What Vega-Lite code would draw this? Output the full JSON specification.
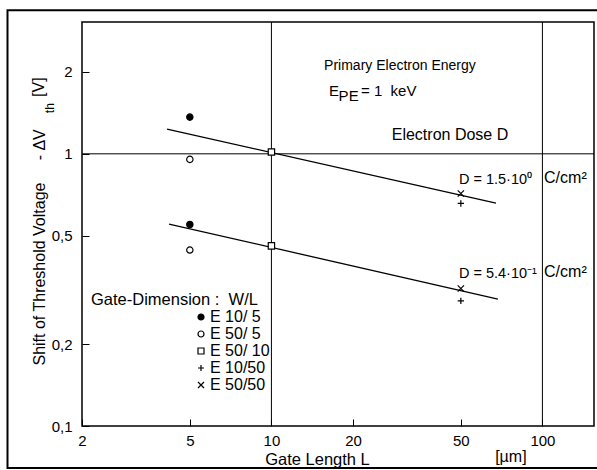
{
  "$schema": "https://vega.github.io/schema/vega-lite/v6.json",
  "width": 512,
  "height": 404,
  "autosize": {"type": "none"},
  "padding": {"left": 82, "top": 22, "right": 3, "bottom": 44},
  "background": "white",
  "config": {
    "font": "Liberation Sans",
    "view": {"stroke": "black", "strokeWidth": 1.5},
    "axis": {"domain": false, "grid": false, "tickColor": "black", "tickWidth": 1, "labelColor": "black", "titleColor": "black", "labelFont": "Liberation Sans", "titleFont": "Liberation Sans", "titleFontWeight": "normal"},
    "text": {"font": "Liberation Sans", "fontSize": 14, "color": "black"}
  },
  "datasets": {
    "points": [
      {"L": 5, "dV": 1.364, "gate": "E 10/ 5"},
      {"L": 5, "dV": 0.550, "gate": "E 10/ 5"},
      {"L": 5, "dV": 0.954, "gate": "E 50/ 5"},
      {"L": 5, "dV": 0.443, "gate": "E 50/ 5"},
      {"L": 10, "dV": 1.015, "gate": "E 50/ 10"},
      {"L": 10, "dV": 0.459, "gate": "E 50/ 10"},
      {"L": 50, "dV": 0.657, "gate": "E 10/50"},
      {"L": 50, "dV": 0.288, "gate": "E 10/50"},
      {"L": 50, "dV": 0.715, "gate": "E 50/50"},
      {"L": 50, "dV": 0.320, "gate": "E 50/50"}
    ],
    "fits": [
      {"dose": "1.5", "L": 4.12, "dV": 1.232},
      {"dose": "1.5", "L": 67.4, "dV": 0.659},
      {"dose": "0.54", "L": 4.19, "dV": 0.552},
      {"dose": "0.54", "L": 68.5, "dV": 0.2926}
    ]
  },
  "layer": [
    {
      "data": {"name": "points"},
      "mark": {"type": "point", "opacity": 0, "size": 1},
      "encoding": {
        "x": {"field": "L", "type": "quantitative", "scale": {"type": "log", "domain": [2, 155], "nice": false},
          "axis": {"values": [2, 5, 10, 20, 50, 100], "format": "~g", "offset": -7, "tickSize": 7, "labelFontSize": 15, "labelPadding": 7, "labelOverlap": false, "labelFlush": false, "title": "Gate Length L", "titleFontSize": 16.5, "titleX": 235, "titleY": 40, "titleBaseline": "middle"}},
        "y": {"field": "dV", "type": "quantitative", "scale": {"type": "log", "domain": [0.1, 3.05], "nice": false},
          "axis": {"values": [0.1, 0.2, 0.5, 1, 2], "labelExpr": "replace(toString(datum.value), '.', ',')", "offset": -7, "tickSize": 7, "labelFontSize": 15, "labelPadding": 10, "labelOverlap": false, "labelFlush": false, "title": "Shift of Threshold Voltage\u00a0\u00a0\u00a0\u00a0\u00a0-\u00a0ΔV", "titleFontSize": 16, "titleX": -50, "titleY": 343, "titleAlign": "left", "titleBaseline": "middle"}}
      }
    },
    {
      "data": {"values": [{}]},
      "mark": {"type": "rect", "fill": null, "fillOpacity": 0, "stroke": "black", "strokeWidth": 2, "clip": false},
      "encoding": {
        "x": {"datum": 1.062, "type": "quantitative"},
        "x2": {"datum": 163},
        "y": {"datum": 0.0701, "type": "quantitative"},
        "y2": {"datum": 3.37}
      }
    },
    {
      "data": {"values": [{}]},
      "mark": {"type": "rule", "color": "black", "strokeWidth": 1},
      "encoding": {"x": {"datum": 10, "type": "quantitative"}}
    },
    {
      "data": {"values": [{}]},
      "mark": {"type": "rule", "color": "black", "strokeWidth": 1},
      "encoding": {"x": {"datum": 100, "type": "quantitative"}}
    },
    {
      "data": {"values": [{}]},
      "mark": {"type": "rule", "color": "black", "strokeWidth": 1},
      "encoding": {"y": {"datum": 1, "type": "quantitative"}}
    },
    {
      "data": {"name": "fits"},
      "mark": {"type": "line", "color": "black", "strokeWidth": 1.3},
      "encoding": {
        "x": {"field": "L", "type": "quantitative", "title": "Gate Length L"},
        "y": {"field": "dV", "type": "quantitative", "title": "Shift of Threshold Voltage\u00a0\u00a0\u00a0\u00a0\u00a0-\u00a0ΔV"},
        "detail": {"field": "dose"}
      }
    },
    {
      "data": {"name": "points"},
      "mark": {"type": "point", "filled": false, "stroke": "black", "strokeWidth": 1.2, "opacity": 1, "size": 40},
      "encoding": {
        "x": {"field": "L", "type": "quantitative", "title": "Gate Length L"},
        "y": {"field": "dV", "type": "quantitative", "title": "Shift of Threshold Voltage\u00a0\u00a0\u00a0\u00a0\u00a0-\u00a0ΔV"},
        "shape": {"field": "gate", "type": "nominal",
          "scale": {"domain": ["E 10/ 5", "E 50/ 5", "E 50/ 10", "E 10/50", "E 50/50"], "range": ["circle", "circle", "square", "M-1,0H1M0,-1V1", "M-1,-1L1,1M-1,1L1,-1"]},
          "legend": {"title": null, "orient": "none", "legendX": 111, "legendY": 287, "padding": 0, "labelFontSize": 16, "labelColor": "black", "symbolSize": 36, "symbolStrokeWidth": 1.2, "symbolOpacity": 1, "rowPadding": 1, "labelOffset": 1,
            "encode": {"symbols": {"update": {"stroke": {"value": "black"}, "strokeWidth": {"value": 1.2}, "opacity": {"value": 1}}}}}},
        "fill": {"field": "gate", "type": "nominal",
          "scale": {"domain": ["E 10/ 5", "E 50/ 5", "E 50/ 10", "E 10/50", "E 50/50"], "range": ["black", "white", "white", "transparent", "transparent"]},
          "legend": {"title": null, "orient": "none", "legendX": 111, "legendY": 287, "padding": 0, "labelFontSize": 16, "labelColor": "black", "symbolSize": 36, "symbolStrokeWidth": 1.2, "symbolOpacity": 1, "rowPadding": 1, "labelOffset": 1,
            "encode": {"symbols": {"update": {"stroke": {"value": "black"}, "strokeWidth": {"value": 1.2}, "opacity": {"value": 1}}}}}}
      }
    },
    {
      "data": {"values": [{}]},
      "mark": {"type": "text", "align": "center", "baseline": "middle", "angle": 270, "fontSize": 12, "text": "th"},
      "encoding": {"x": {"datum": 1.524, "type": "quantitative"}, "y": {"datum": 1.471, "type": "quantitative"}}
    },
    {
      "data": {"values": [{}]},
      "mark": {"type": "text", "align": "center", "baseline": "middle", "angle": 270, "fontSize": 16, "text": "[V]"},
      "encoding": {"x": {"datum": 1.388, "type": "quantitative"}, "y": {"datum": 1.758, "type": "quantitative"}}
    },
    {
      "data": {"values": [{}]},
      "mark": {"type": "text", "align": "center", "baseline": "middle", "text": "Primary Electron Energy"},
      "encoding": {"x": {"datum": 29.8, "type": "quantitative"}, "y": {"datum": 2.10, "type": "quantitative"}}
    },
    {
      "data": {"values": [{}]},
      "mark": {"type": "text", "align": "left", "baseline": "middle", "fontSize": 15, "text": "E"},
      "encoding": {"x": {"datum": 16.3, "type": "quantitative"}, "y": {"datum": 1.70, "type": "quantitative"}}
    },
    {
      "data": {"values": [{}]},
      "mark": {"type": "text", "align": "left", "baseline": "middle", "fontSize": 15, "text": "PE"},
      "encoding": {"x": {"datum": 17.7, "type": "quantitative"}, "y": {"datum": 1.629, "type": "quantitative"}}
    },
    {
      "data": {"values": [{}]},
      "mark": {"type": "text", "align": "left", "baseline": "middle", "fontSize": 15, "text": "= 1\u00a0\u00a0keV"},
      "encoding": {"x": {"datum": 21.4, "type": "quantitative"}, "y": {"datum": 1.70, "type": "quantitative"}}
    },
    {
      "data": {"values": [{}]},
      "mark": {"type": "text", "align": "center", "baseline": "middle", "fontSize": 16, "text": "Electron Dose D"},
      "encoding": {"x": {"datum": 45.6, "type": "quantitative"}, "y": {"datum": 1.171, "type": "quantitative"}}
    },
    {
      "data": {"values": [{}]},
      "mark": {"type": "text", "align": "left", "baseline": "middle", "fontSize": 14.5, "text": "D = 1.5·10⁰"},
      "encoding": {"x": {"datum": 49.2, "type": "quantitative"}, "y": {"datum": 0.80, "type": "quantitative"}}
    },
    {
      "data": {"values": [{}]},
      "mark": {"type": "text", "align": "left", "baseline": "middle", "fontSize": 16, "text": "C/cm²"},
      "encoding": {"x": {"datum": 101.4, "type": "quantitative"}, "y": {"datum": 0.814, "type": "quantitative"}}
    },
    {
      "data": {"values": [{}]},
      "mark": {"type": "text", "align": "left", "baseline": "middle", "fontSize": 14.5, "text": "D = 5.4·10⁻¹"},
      "encoding": {"x": {"datum": 49.2, "type": "quantitative"}, "y": {"datum": 0.3616, "type": "quantitative"}}
    },
    {
      "data": {"values": [{}]},
      "mark": {"type": "text", "align": "left", "baseline": "middle", "fontSize": 16, "text": "C/cm²"},
      "encoding": {"x": {"datum": 101.4, "type": "quantitative"}, "y": {"datum": 0.3677, "type": "quantitative"}}
    },
    {
      "data": {"values": [{}]},
      "mark": {"type": "text", "align": "left", "baseline": "middle", "fontSize": 16.5, "text": "Gate-Dimension :\u00a0\u00a0W/L"},
      "encoding": {"x": {"datum": 2.159, "type": "quantitative"}, "y": {"datum": 0.290, "type": "quantitative"}}
    },
    {
      "data": {"values": [{}]},
      "mark": {"type": "text", "align": "center", "baseline": "middle", "fontSize": 16, "text": "[µm]"},
      "encoding": {"x": {"datum": 76.5, "type": "quantitative"}, "y": {"datum": 0.0769, "type": "quantitative"}}
    }
  ]
}
